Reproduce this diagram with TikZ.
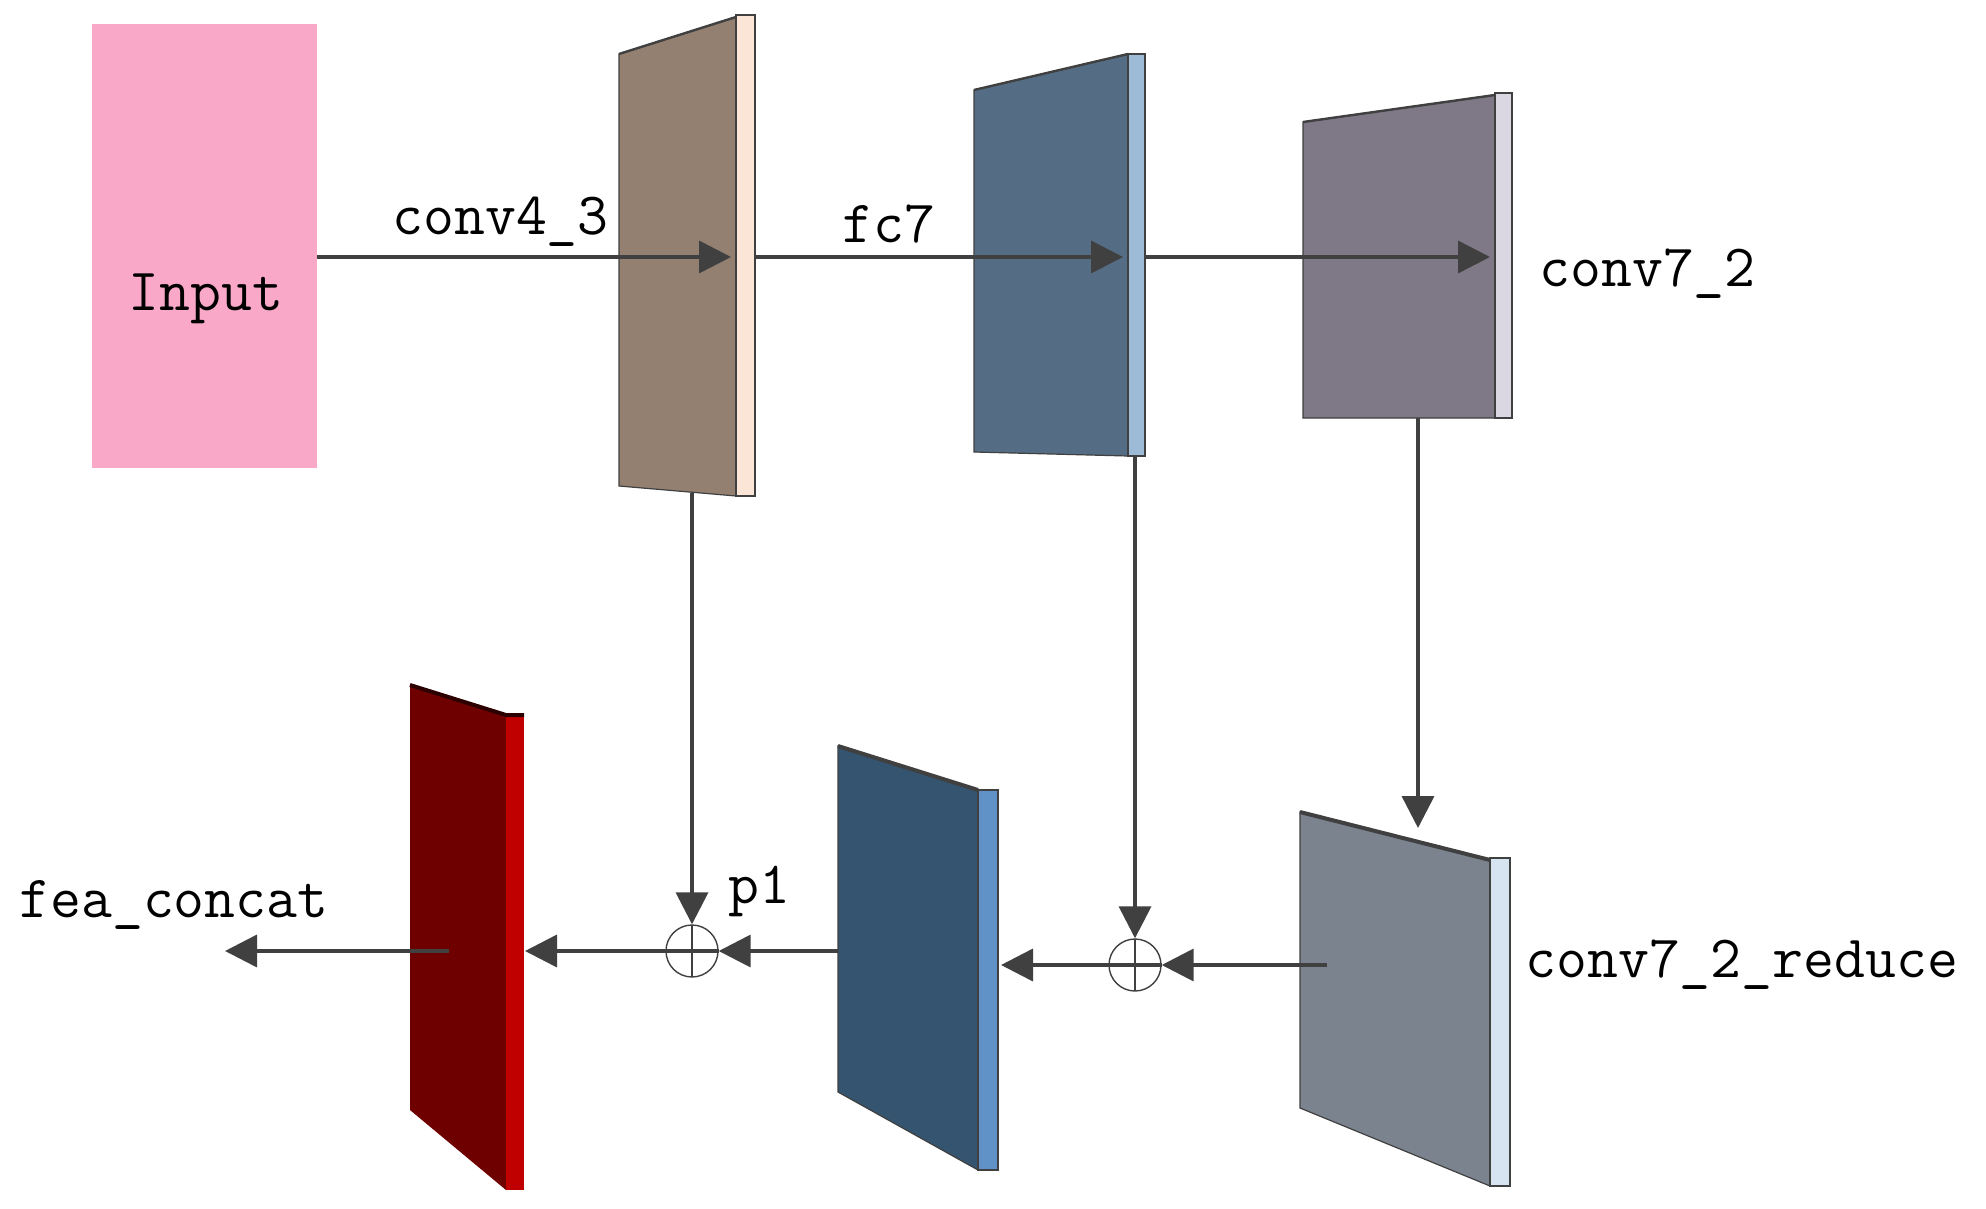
\documentclass[tikz,border=0pt]{standalone}
\usepackage{fontspec}
\usetikzlibrary{arrows.meta}
\definecolor{inpink}{RGB}{249,168,200}
\definecolor{brownf}{RGB}{147,128,113}
\definecolor{browns}{RGB}{251,229,214}
\definecolor{fcf}{RGB}{84,109,133}
\definecolor{fcs}{RGB}{157,187,214}
\definecolor{purf}{RGB}{127,120,134}
\definecolor{purs}{RGB}{218,215,227}
\definecolor{redf}{RGB}{110,0,0}
\definecolor{reds}{RGB}{192,0,0}
\definecolor{bluef}{RGB}{52,84,112}
\definecolor{blues}{RGB}{96,146,200}
\definecolor{grayf}{RGB}{122,131,142}
\definecolor{grays}{RGB}{214,227,240}
\definecolor{linegray}{RGB}{64,64,64}

\begin{document}
\begin{tikzpicture}[x=0.5pt,y=-0.5pt,
    face/.style={draw=linegray,line width=0.6pt},
    lbl/.style={font=\fontsize{30}{36}\selectfont\ttfamily,inner sep=0pt,anchor=base west},
    flow/.style={draw=linegray,line width=1.8pt,-{Triangle[length=16pt,width=16pt]}},
    sum/.style={circle,draw=linegray,line width=0.7pt,minimum size=26pt,inner sep=0pt,
      path picture={\draw[line width=0.7pt] (path picture bounding box.north) -- (path picture bounding box.south);}}]
      \fill[white] (0,0) rectangle (1986,1209);
      % Define nodes
      \node[fill=inpink,minimum width=112.5pt,minimum height=222pt,inner sep=0pt] (in) at (204.5,246) {};
      \node[lbl,anchor=base] (lbl-in) at (206,311) {Input};
      % conv4_3
      \filldraw[face,fill=brownf] (619,54) -- (736,17) -- (736,496) -- (619,486) -- cycle;
      \filldraw[face,fill=browns] (736,15) -- (755,15) -- (755,496) -- (736,496) -- cycle;
      \draw[linegray,line width=1.2pt] (619,54) -- (736,17);
      \coordinate (conv43-in) at (731,257);
      \coordinate (conv43-out) at (755,257);
      \coordinate (conv43-down) at (692,493);
      % fc7
      \filldraw[face,fill=fcf] (974,90) -- (1128,54) -- (1128,456) -- (974,452) -- cycle;
      \filldraw[face,fill=fcs] (1128,54) -- (1145,54) -- (1145,456) -- (1128,456) -- cycle;
      \draw[linegray,line width=1.2pt] (974,90) -- (1128,54);
      \coordinate (fc7-in) at (1123,257);
      \coordinate (fc7-out) at (1145,257);
      \coordinate (fc7-down) at (1135,456);
      % conv7_2
      \filldraw[face,fill=purf] (1303,122) -- (1495,95) -- (1495,418) -- (1303,418) -- cycle;
      \filldraw[face,fill=purs] (1495,93) -- (1512,93) -- (1512,418) -- (1495,418) -- cycle;
      \draw[linegray,line width=1.2pt] (1303,122) -- (1495,95);
      \coordinate (conv72-in) at (1490,257);
      \coordinate (conv72-down) at (1418,418);
      % conv7_2_reduce
      \filldraw[face,fill=grayf] (1300,812) -- (1490,860) -- (1490,1186) -- (1300,1108) -- cycle;
      \filldraw[face,fill=grays] (1490,858) -- (1510,858) -- (1510,1186) -- (1490,1186) -- cycle;
      \draw[linegray,line width=2pt] (1300,812) -- (1490,860);
      \coordinate (reduce-in) at (1418,828);
      \coordinate (reduce-out) at (1327,965);
      % p1
      \filldraw[face,fill=bluef] (838,746) -- (978,790) -- (978,1170) -- (838,1092) -- cycle;
      \filldraw[face,fill=blues] (978,790) -- (998,790) -- (998,1170) -- (978,1170) -- cycle;
      \draw[linegray,line width=2pt] (838,746) -- (978,790);
      \coordinate (p1-in) at (1001,965);
      \coordinate (p1-out) at (838,951);
      % fea_concat
      \fill[redf] (410,685) -- (506,715) -- (506,1190) -- (410,1110) -- cycle;
      \fill[reds] (506,715) -- (524,715) -- (524,1190) -- (506,1190) -- cycle;
      \draw[black!60!redf,line width=2pt] (410,685) -- (506,715) -- (524,715);
      \coordinate (fea-in) at (525,951);
      \coordinate (fea-out) at (449,951);
      \coordinate (fea-end) at (225,951);
      \node[sum] (sumA) at (692,951) {};
      \node[sum] (sumB) at (1135,965) {};
      % Labels
      \node[lbl] (lbl-conv43) at (392,235) {conv4\_3};
      \node[lbl] (lbl-fc7) at (842,243) {fc7};
      \node[lbl] (lbl-conv72) at (1539,286) {conv7\_2};
      \node[lbl] (lbl-p1) at (728,903) {p1};
      \node[lbl] (lbl-fea) at (19,917) {fea\_concat};
      \node[lbl] (lbl-reduce) at (1525,977) {conv7\_2\_reduce};
      % Connect nodes
      \draw[flow] (in.east |- conv43-in) -- (conv43-in);
      \draw[flow] (conv43-out) -- (fc7-in);
      \draw[flow] (fc7-out) -- (conv72-in);
      \draw[flow] (conv43-down) -- (sumA);
      \draw[flow] (fc7-down) -- (sumB);
      \draw[flow] (conv72-down) -- (reduce-in);
      \draw[flow] (reduce-out) -- (sumB);
      \draw[flow] (sumB.east) -- (p1-in);
      \draw[flow] (p1-out) -- (sumA);
      \draw[flow] (sumA.east) -- (fea-in);
      \draw[flow] (fea-out) -- (fea-end);
    \end{tikzpicture}
\end{document}
